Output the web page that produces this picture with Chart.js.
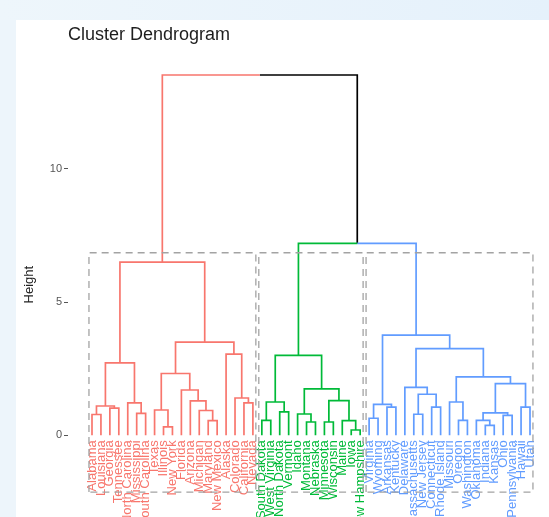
<!DOCTYPE html>
<html><head><meta charset="utf-8">
<script src="https://cdn.jsdelivr.net/npm/chart.js@4"></script>
<style>
html,body{margin:0;padding:0;width:549px;height:517px;overflow:hidden;background:#EDF5FB;}
#band{position:absolute;left:0;top:0;width:549px;height:20px;background:linear-gradient(to right,#EEF6FB,#E5F1FB);}
#panel{position:absolute;left:16px;top:20px;right:0;bottom:0;background:#ffffff;}
canvas{position:absolute;left:0;top:0;}
</style></head>
<body><div id="band"></div><div id="panel"></div><canvas id="c" width="549" height="517"></canvas>
<script>
// ---- data ----
const leafLabels = ["Alabama","Louisiana","Georgia","Tennessee","North Carolina","Mississippi","South Carolina","Texas","Illinois","New York","Florida","Arizona","Michigan","Maryland","New Mexico","Alaska","Colorado","California","Nevada",
"South Dakota","West Virginia","North Dakota","Vermont","Idaho","Montana","Nebraska","Minnesota","Wisconsin","Maine","Iowa","New Hampshire",
"Virginia","Wyoming","Arkansas","Kentucky","Delaware","Massachusetts","New Jersey","Connecticut","Rhode Island","Missouri","Oregon","Washington","Oklahoma","Indiana","Kansas","Ohio","Pennsylvania","Hawaii","Utah"];
const clusterSizes = [19, 12, 19];
const clusterColors = ["#F8766D", "#00BA38", "#619CFF"];
const linkColor = "#000000";
// merges: negative = leaf number (display order), positive = earlier merge row
const mergePairs = [
 [-1,-2],[-3,-4],[1,2],[-6,-7],[-5,4],[3,5],
 [-9,-10],[-8,7],[-14,-15],[-13,9],[-12,10],[-11,11],[8,12],[-18,-19],[-17,14],[-16,15],[13,16],[6,17],
 [-20,-21],[-22,-23],[19,20],[-25,-26],[-24,22],[-27,-28],[-30,-31],[-29,25],[24,26],[23,27],[21,28],
 [-32,-33],[-34,-35],[30,31],[-37,-38],[-39,-40],[33,34],[-36,35],[-42,-43],[-41,37],[-45,-46],[-44,39],[-47,-48],[40,41],[-49,-50],[42,43],[38,44],[36,45],[32,46],
 [29,47],[18,48]
];
const mergeHeights = [
 0.78,1.02,1.1,0.82,1.22,2.72,
 0.32,0.95,0.55,0.93,1.29,1.7,2.32,1.22,1.4,3.05,3.5,6.5,
 0.56,0.88,1.25,0.5,0.8,0.5,0.2,0.55,1.3,1.74,3.0,
 0.64,1.06,1.16,0.79,1.06,1.54,1.8,0.56,1.25,0.37,0.56,0.75,0.84,1.06,1.94,2.19,3.25,3.76,
 7.2,13.52
];
const yTicks = [0, 5, 10];
const rectTop = 6.85;
const rectBottom = -2.13;

// ---- build tree geometry from data ----
const clusterOf = [];
clusterSizes.forEach((s, k) => { for (let i = 0; i < s; i++) clusterOf.push(k); });
const nodeX = [], nodeCl = [];
function child(c) {
  if (c < 0) return { x: -c, h: 0, cl: clusterOf[-c - 1] };
  return { x: nodeX[c - 1], h: mergeHeights[c - 1], cl: nodeCl[c - 1] };
}
const segs = { 0: [], 1: [], 2: [], "-1": [] };
const gap = { x: null, y: null };
mergePairs.forEach((p, i) => {
  const L = child(p[0]), R = child(p[1]), h = mergeHeights[i];
  const x = (L.x + R.x) / 2;
  nodeX[i] = x;
  nodeCl[i] = L.cl === R.cl ? L.cl : -1;
  if (L.cl === R.cl) {
    segs[L.cl].push({x:L.x,y:L.h},{x:L.x,y:h},{x:R.x,y:h},{x:R.x,y:R.h},gap);
  } else {
    segs[L.cl].push({x:L.x,y:L.h},{x:L.x,y:h},{x:x,y:h},gap);
    segs[R.cl].push({x:x,y:h},{x:R.x,y:h},{x:R.x,y:R.h},gap);
  }
});

const datasets = [];
let cum = 0;
clusterSizes.forEach((s) => {
  const l = cum + 0.66, r = cum + s + 0.33;
  datasets.push({
    data: [{x:l,y:rectBottom},{x:l,y:rectTop},{x:r,y:rectTop},{x:r,y:rectBottom},{x:l,y:rectBottom}],
    borderColor: "#A3A3A3", borderWidth: 1.3, borderDash: [7,5]
  });
  cum += s;
});
[0,1,2,"-1"].forEach(k => {
  datasets.push({
    data: segs[k],
    borderColor: k === "-1" ? linkColor : clusterColors[k],
    borderWidth: 1.7
  });
});
datasets.forEach(d => { d.showLine = true; d.pointRadius = 0; d.spanGaps = false; d.fill = false; d.borderCapStyle = "butt"; d.borderJoinStyle = "miter"; });

Chart.defaults.font.family = "'Liberation Sans', Arial, sans-serif";
new Chart(document.getElementById("c"), {
  type: "scatter",
  data: { datasets },
  options: {
    responsive: false, animation: false, devicePixelRatio: 1,
    layout: { padding: { left: 0, right: 5, top: 0, bottom: 10 } },
    plugins: {
      legend: { display: false }, tooltip: { enabled: false },
      title: { display: true, text: "Cluster Dendrogram", align: "start", fullSize: false,
        color: "#1e1e1e", font: { size: 18, weight: "normal" }, padding: { top: 24.2, bottom: 16.4 } }
    },
    scales: {
      x: {
        type: "linear", min: -1.685, max: 51.566, position: { y: 0 },
        grid: { display: false, drawTicks: false }, border: { display: false },
        afterBuildTicks: s => { s.ticks = leafLabels.map((_, i) => ({ value: i + 1 })); },
        afterFit: s => { s.height = 0; s.paddingLeft = 0; s.paddingRight = 0; s.paddingTop = 0; s.paddingBottom = 0; },
        ticks: {
          autoSkip: false, minRotation: 90, maxRotation: 90, padding: 5,
          font: { size: 13 },
          color: ctx => clusterColors[clusterOf[ctx.index]],
          callback: (v, i) => leafLabels[i]
        }
      },
      y: {
        type: "linear", min: -2.69, max: 14,
        grid: { display: true, drawOnChartArea: false, drawTicks: true, tickLength: 4, color: "#555555" },
        border: { display: false },
        afterBuildTicks: s => { s.ticks = yTicks.map(v => ({ value: v })); },
        afterFit: s => { s.width = 68; },
        ticks: { padding: 2, color: "#555555", font: { size: 11 } },
        title: { display: true, text: "Height", color: "#222222", font: { size: 13 }, padding: { top: 22, bottom: 0 } }
      }
    }
  }
});
</script>
</body></html>
